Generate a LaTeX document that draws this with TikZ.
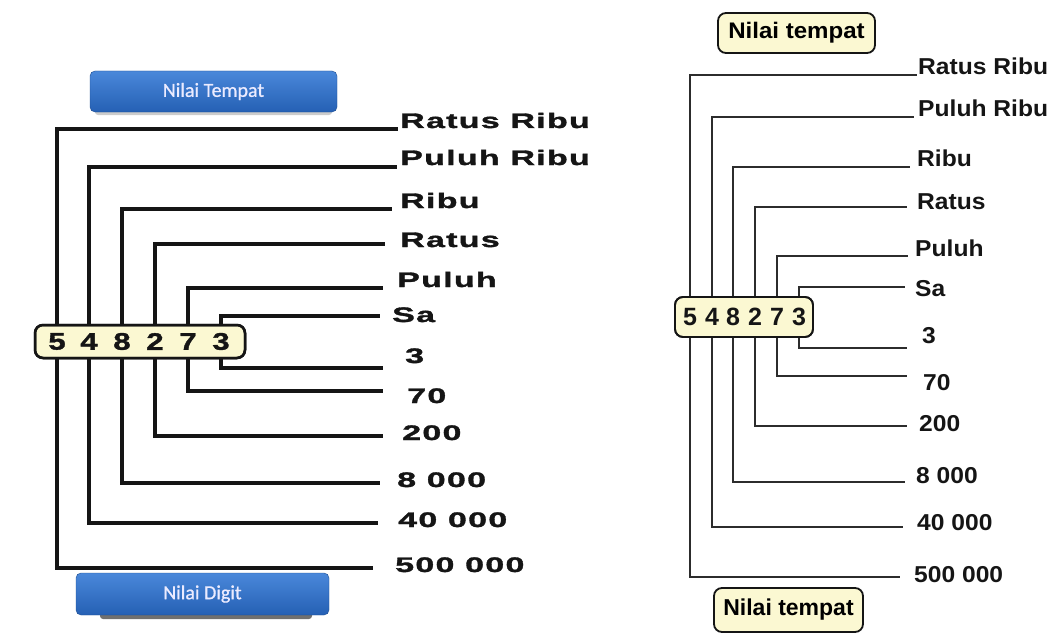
\documentclass[tikz,border=0pt]{standalone}
\usepackage{fontspec}
\setmainfont{Liberation Sans}
\newfontfamily\widefont[FakeStretch=1.62,LetterSpace=6,FakeBold=1.6]{Liberation Sans Bold}
\newfontfamily\digfont[FakeStretch=1.3,FakeBold=1.4]{Liberation Sans Bold}
\newfontfamily\narrowfont[FakeStretch=1.07]{Liberation Sans Bold}
\newfontfamily\btnfont[FakeBold=0.8]{Carlito}
\definecolor{ink}{HTML}{151515}
\definecolor{cream}{HTML}{FBF8D2}
\definecolor{btntop}{HTML}{4A88DA}
\definecolor{btnbot}{HTML}{2560B4}
\begin{document}
\begin{tikzpicture}[x=1pt,y=-1pt,
  lnL/.style={draw=ink,line width=3.2pt},
  lnR/.style={draw=ink!90,line width=2.9pt},
  labL/.style={anchor=base west,inner sep=0pt,text=ink,
    font=\widefont\fontsize{21}{21}\selectfont},
  labR/.style={anchor=base west,inner sep=0pt,text=ink,
    font=\narrowfont\fontsize{23}{23}\selectfont},
  digL/.style={inner sep=0pt,text=ink,font=\digfont\fontsize{24}{24}\selectfont},
  digR/.style={inner sep=0pt,text=ink,font=\bfseries\fontsize{25}{25}\selectfont},
  ybox/.style={draw=ink,fill=cream,rounded corners=8pt},
  bluebtn/.style={rounded corners=5pt,top color=btntop,bottom color=btnbot,
    draw=btnbot!80!black,line width=0.4pt,text=white!92!blue,
    font=\btnfont\fontsize{20}{20}\selectfont}
]
\useasboundingbox (0,0) rectangle (1053,634);

% ---------------- left scheme ----------------
\fill[black!70,rounded corners=3pt,opacity=0.8] (100,611) rectangle (312,619);
\fill[black!40,rounded corners=3pt,opacity=0.5] (95,108) rectangle (332,115);
\node[bluebtn,minimum width=247,minimum height=41] (topbtn) at (213.5,91.5) {Nilai Tempat};
\node[bluebtn,minimum width=253,minimum height=42] (botbtn) at (202.5,594) {Nilai Digit};

% free ends of the place-value lines
\coordinate (tL1) at (398,129);
\coordinate (tL2) at (397,167);
\coordinate (tL3) at (392,209);
\coordinate (tL4) at (385,244);
\coordinate (tL5) at (383,288);
\coordinate (tL6) at (380,316);
% free ends of the digit-value lines
\coordinate (bL1) at (373,568);
\coordinate (bL2) at (378,523);
\coordinate (bL3) at (380,483);
\coordinate (bL4) at (383,436);
\coordinate (bL5) at (383,391);
\coordinate (bL6) at (383,368);

\node[ybox,line width=2.5pt,minimum width=210,minimum height=33] (bxL) at (140,341.5) {};
\foreach \d/\x [count=\i] in {5/57,4/89,8/122,2/155,7/188,3/221}
  \node[digL] (l\i) at (\x,341.5) {\d};

\foreach \i in {1,...,6}{
  \draw[lnL] (l\i |- bxL.north) |- (tL\i);
  \draw[lnL] (l\i |- bxL.south) |- (bL\i);
}
\node[ybox,line width=2.5pt,minimum width=210,minimum height=33,fill=none] at (bxL) {};

\node[labL] (pL1) at (400,128) {Ratus Ribu};
\node[labL] (pL2) at (400,165) {Puluh Ribu};
\node[labL] (pL3) at (400,208) {Ribu};
\node[labL] (pL4) at (400,247) {Ratus};
\node[labL] (pL5) at (397,287) {Puluh};
\node[labL] (pL6) at (392,322) {Sa};
\node[labL] (vL6) at (405,363) {3};
\node[labL] (vL5) at (407,403) {70};
\node[labL] (vL4) at (402,440) {200};
\node[labL] (vL3) at (397,487) {8 000};
\node[labL] (vL2) at (398,527) {40 000};
\node[labL] (vL1) at (395,572) {500 000};

% ---------------- right scheme ----------------
\node[ybox,line width=1.8pt,minimum width=157,minimum height=40,
  font=\narrowfont\fontsize{22.5}{22.5}\selectfont] (tbox) at (796.5,33) {Nilai tempat};
\node[ybox,line width=1.8pt,minimum width=149,minimum height=44,
  font=\bfseries\fontsize{23}{23}\selectfont] (bbox) at (788.5,610) {Nilai tempat};

\coordinate (tR1) at (917,75);
\coordinate (tR2) at (914,117);
\coordinate (tR3) at (910,167);
\coordinate (tR4) at (907,207);
\coordinate (tR5) at (908,256);
\coordinate (tR6) at (905,287);
\coordinate (bR1) at (900,577);
\coordinate (bR2) at (903,527);
\coordinate (bR3) at (905,482);
\coordinate (bR4) at (907,426);
\coordinate (bR5) at (907,376);
\coordinate (bR6) at (907,348);

\node[ybox,line width=1.8pt,minimum width=138,minimum height=40] (bxR) at (744,317) {};
\foreach \d/\x [count=\i] in {5/690,4/712,8/733,2/755,7/777,3/799}
  \node[digR] (r\i) at (\x,317) {\d};

\foreach \i in {1,...,6}{
  \draw[lnR] (r\i |- bxR.north) |- (tR\i);
  \draw[lnR] (r\i |- bxR.south) |- (bR\i);
}
\node[ybox,line width=1.8pt,minimum width=138,minimum height=40,fill=none] at (bxR) {};

\node[labR] (pR1) at (918,75) {Ratus Ribu};
\node[labR] (pR2) at (918,117) {Puluh Ribu};
\node[labR] (pR3) at (917,166) {Ribu};
\node[labR] (pR4) at (917,209) {Ratus};
\node[labR] (pR5) at (915,256) {Puluh};
\node[labR] (pR6) at (915,296) {Sa};
\node[labR] (vR6) at (922,343) {3};
\node[labR] (vR5) at (923,390) {70};
\node[labR] (vR4) at (919,431) {200};
\node[labR] (vR3) at (916,483) {8 000};
\node[labR] (vR2) at (917,530) {40 000};
\node[labR] (vR1) at (914,582) {500 000};
\end{tikzpicture}
\end{document}
